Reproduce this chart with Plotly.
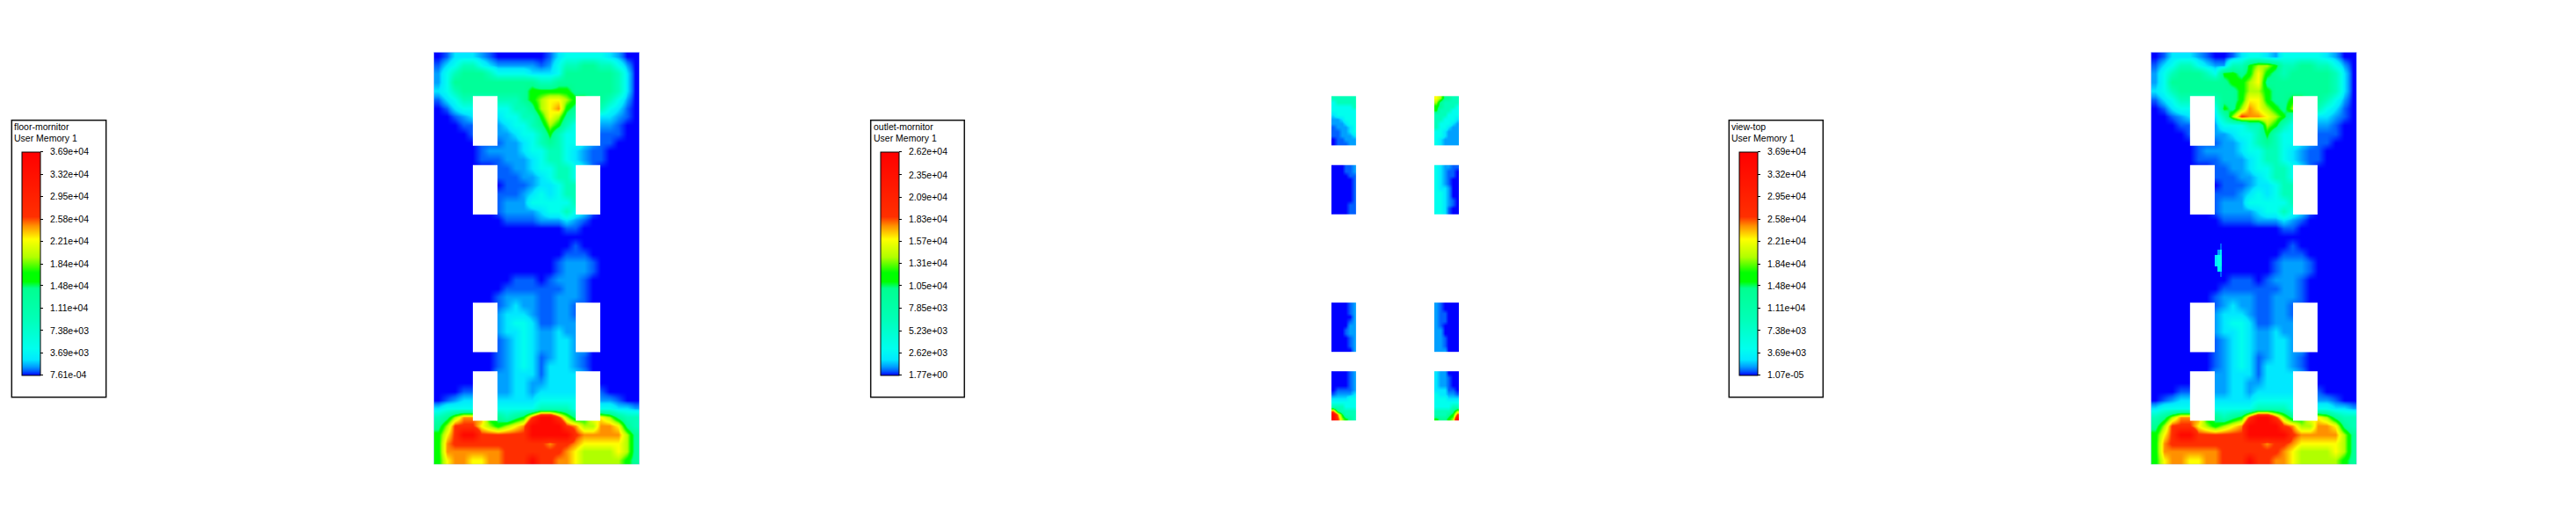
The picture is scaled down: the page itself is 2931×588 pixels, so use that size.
import numpy as np
import plotly.graph_objects as go

W, H = 2931, 588

# ---- data (field level per grid cell) ----
LEVEL_CHARS = "0123456789abc"
LEVEL_FRACTIONS = [0.0, 0.02, 0.04, 0.07, 0.12, 0.25, 0.36, 0.44, 0.53, 0.61, 0.67, 0.72, 0.95]

FLOOR_ROWS = [
    "013332 100000 013444 443200",
    "134554 322222 124556 655420",
    "245666 544443 334666 666530",
    "246666 666666 556666 666530",
    "345666 666667 777766 666530",
    "134555 555567 899877 665420",
    "013444 444556 89a766 554310",
    "001233 334455 798655 433210",
    "000112 223445 687544 322100",
    "000011 222344 575443 211100",
    "000001 112234 565443 211000",
    "000001 222234 455432 110000",
    "000001 112223 455432 110000",
    "000000 011223 445543 100000",
    "000000 011122 345543 100000",
    "000000 001112 334553 100000",
    "000000 011123 434553 100000",
    "000000 012224 444453 100000",
    "000000 012222 344543 100000",
    "000000 001111 222321 000000",
    "000000 000000 000110 000000",
    "000000 000000 000000 000000",
    "000000 000000 000010 000000",
    "000000 000000 000111 000000",
    "000000 000000 001222 100000",
    "000000 000000 001222 100000",
    "000000 000111 012221 000000",
    "000000 001111 111221 000000",
    "000000 012222 112221 000000",
    "000000 012322 112211 000000",
    "000000 023332 112211 000000",
    "000000 023443 112222 000000",
    "000000 023343 223222 000000",
    "000000 012343 223322 000000",
    "000000 012343 223322 000000",
    "000000 012343 123321 000000",
    "000000 012343 133321 000000",
    "000000 022333 133332 000000",
    "000000 022332 233332 000000",
    "000111 222332 333332 210000",
    "012333 333333 444443 322100",
    "344444 444444 555544 444332",
    "568aaa 76567b ccb867 998655",
    "68bbb9 8789ac cccba8 8aa965",
    "79bccb bbbbbc ccccba aaaa86",
    "7abbbb bbbbbb babba9 999986",
    "7aaaaa aabbbb bbba98 888986",
    "79aa99 aabbbc bbaa98 888876",
]

# view-top differs from floor-mornitor only near the top: row -> replacement from column 8
VIEW_TOP_PATCH = {
    0: "0134432",
    1: "25578875",
    2: "77679765",
    3: "67789666",
    4: "66788766",
    5: "667997667",
    6: "768a98768",
    7: "58baa987",
    8: "44455875",
}

# small sliver on view-top
SLIVER_X = [0.317, 0.331, 0.341]
SLIVER_Y = [0.942, 0.970, 0.999, 1.027, 1.055, 1.077]
SLIVER_ROWS = ["  1", " 23", "344", "344", " 43", "  1"]

# outlet-mornitor: one small field per window (left/right, four rows of windows)
OUTLET_ROWS = {
    (0, 0): ["555555", "455555", "444445", "444444", "344444", "223444",
             "222344", "122234", "112234", "112223", "011222", "011122"],
    (1, 0): ["986655", "865555", "765554", "755544", "555444", "554443",
             "544432", "544322", "443222", "443222", "432222", "432222"],
    (0, 1): ["000112", "000112", "000011", "000001", "000001", "000001",
             "000001", "000001", "000001", "000011", "000011", "000011"],
    (1, 1): ["432211", "432110", "432110", "432100", "432100", "433200",
             "443200", "443200", "443210", "443210", "443100", "443100"],
    (0, 2): ["000012", "000012", "000012", "000002", "000012", "000022",
             "000122", "000122", "000012", "000012", "000012", "000002"],
    (1, 2): ["210000", "210000", "211000", "211000", "211000", "210000",
             "220000", "220000", "221000", "221000", "221000", "222000"],
    (0, 3): ["000012", "000012", "000012", "000012", "011112", "122223",
             "333344", "444444", "555444", "a65555", "ca7555", "cb8765"],
    (1, 3): ["322000", "322100", "322100", "322100", "333110", "433221",
             "444333", "444444", "444455", "555568", "55567b", "76678c"],
}

# window openings, in panel units (panel is 1 wide, 2 tall, y downward)
WINDOW_X = [(0.190, 0.310), (0.690, 0.809)]
WINDOW_Y = [(0.2134, 0.4538), (0.5477, 0.788), (1.2148, 1.455), (1.5477, 1.788)]

TITLES = ["floor-mornitor", "outlet-mornitor", "view-top"]
SUBTITLE = "User Memory 1"
TICKS = [
    ["3.69e+04", "3.32e+04", "2.95e+04", "2.58e+04", "2.21e+04", "1.84e+04",
     "1.48e+04", "1.11e+04", "7.38e+03", "3.69e+03", "7.61e-04"],
    ["2.62e+04", "2.35e+04", "2.09e+04", "1.83e+04", "1.57e+04", "1.31e+04",
     "1.05e+04", "7.85e+03", "5.23e+03", "2.62e+03", "1.77e+00"],
    ["3.69e+04", "3.32e+04", "2.95e+04", "2.58e+04", "2.21e+04", "1.84e+04",
     "1.48e+04", "1.11e+04", "7.38e+03", "3.69e+03", "1.07e-05"],
]

COLORSCALE = [
    [0.00, "#0000ff"], [0.02, "#0060ff"], [0.04, "#00a0ff"], [0.07, "#00e8ff"],
    [0.12, "#00ffee"], [0.25, "#00ffb8"], [0.39, "#00ff90"], [0.42, "#00ff00"],
    [0.46, "#00ff00"], [0.53, "#b0ff00"], [0.61, "#ffff00"], [0.67, "#ff9000"],
    [0.71, "#ff3000"], [0.85, "#ff1800"], [1.00, "#ff0000"],
]

# ---- layout constants, pixels ----
PANEL_X = [(493.5, 727.7), (1470.4, 1704.5), (2447.3, 2681.7)]
PANEL_Y = (59.3, 528.3)
BOX_X = [(13.3, 120.7), (990.7, 1097.3), (1967.3, 2074.3)]
BOX_Y = (136.7, 451.7)
BAR_X = [24.7, 1001.7, 1978.7]
BAR_TOP, BAR_LEN, BAR_W = 172.7, 254, 21
FONT = "Liberation Sans, Arial, sans-serif"
TICK_PAD = "\u00a0\u00a0"


def decode(rows, zmax):
    out = []
    for r in rows:
        out.append([np.nan if c == " " else LEVEL_FRACTIONS[LEVEL_CHARS.index(c)] * zmax for c in r])
    return out


floor_rows = [r.replace(" ", "") for r in FLOOR_ROWS]
for r in floor_rows:
    assert len(r) == 24, r
view_rows = list(floor_rows)
for i, patch in VIEW_TOP_PATCH.items():
    view_rows[i] = view_rows[i][:8] + patch + view_rows[i][8 + len(patch):]

ncols, nrows = 24, len(floor_rows)
grid_x = [(i + 0.5) / ncols for i in range(ncols)]
grid_y = [(j + 0.5) * 2 / nrows for j in range(nrows)]

zmaxs = [float(t[0]) for t in TICKS]
zmins = [float(t[-1]) for t in TICKS]

fig = go.Figure()
for k, rows in [(0, floor_rows), (2, view_rows)]:
    fig.add_trace(go.Heatmap(x=grid_x, y=grid_y, z=decode(rows, zmaxs[k]), zsmooth="best",
                             coloraxis="coloraxis" if k == 0 else f"coloraxis{k+1}",
                             xaxis="x" if k == 0 else f"x{k+1}", yaxis="y" if k == 0 else f"y{k+1}",
                             hoverinfo="skip"))

fig.add_trace(go.Heatmap(x=SLIVER_X, y=SLIVER_Y, z=decode(SLIVER_ROWS, zmaxs[2]),
                         coloraxis="coloraxis3", xaxis="x3", yaxis="y3", hoverinfo="skip"))

for (ci, ri), rows in OUTLET_ROWS.items():
    xa, xb = WINDOW_X[ci]
    ya, yb = WINDOW_Y[ri]
    cx = [xa + (i + 0.5) * (xb - xa) / 6 for i in range(6)]
    cy = [ya + (j + 0.5) * (yb - ya) / 12 for j in range(12)]
    fig.add_trace(go.Heatmap(x=cx, y=cy, z=decode(rows, zmaxs[1]), zsmooth="best",
                             coloraxis="coloraxis2", xaxis="x2", yaxis="y2", hoverinfo="skip"))

layout = dict(width=W, height=H, autosize=False, margin=dict(l=0, r=0, t=0, b=0),
              paper_bgcolor="white", plot_bgcolor="white", showlegend=False,
              font=dict(family=FONT, size=10.5, color="black"))
shapes, annotations = [], []
for k in range(3):
    sfx = "" if k == 0 else str(k + 1)
    layout[f"xaxis{sfx}"] = dict(domain=[PANEL_X[k][0] / W, PANEL_X[k][1] / W], range=[0, 1],
                                 visible=False, anchor=f"y{sfx}", fixedrange=True)
    layout[f"yaxis{sfx}"] = dict(domain=[1 - PANEL_Y[1] / H, 1 - PANEL_Y[0] / H], range=[2, 0],
                                 visible=False, anchor=f"x{sfx}", fixedrange=True)
    layout[f"coloraxis{sfx}"] = dict(
        cmin=zmins[k], cmax=zmaxs[k], colorscale=COLORSCALE,
        colorbar=dict(
            x=BAR_X[k] / W, xanchor="left", xpad=0, y=1 - BAR_TOP / H, yanchor="top", ypad=0,
            thickness=BAR_W, thicknessmode="pixels", len=BAR_LEN, lenmode="pixels",
            outlinecolor="black", outlinewidth=1, borderwidth=0,
            tickmode="array", tickvals=[float(t) for t in TICKS[k]],
            ticktext=[TICK_PAD + t for t in TICKS[k]],
            ticks="outside", ticklen=3, tickwidth=1, tickcolor="black",
            tickfont=dict(family=FONT, size=10.5, color="black"),
        ),
    )
    # legend frame
    shapes.append(dict(type="rect", xref="paper", yref="paper",
                       x0=BOX_X[k][0] / W, x1=BOX_X[k][1] / W,
                       y0=1 - BOX_Y[1] / H, y1=1 - BOX_Y[0] / H,
                       line=dict(color="#111111", width=1.5), fillcolor="rgba(0,0,0,0)"))
    for text, py in ((TITLES[k], 144.5), (SUBTITLE, 157.5)):
        annotations.append(dict(text=text, xref="paper", yref="paper", x=(BOX_X[k][0] + 3) / W,
                                y=1 - py / H, xanchor="left", yanchor="middle", showarrow=False,
                                font=dict(family=FONT, size=10.5, color="black"),
                                borderpad=0, borderwidth=0))
    if k != 1:
        # window openings cut out of the field, plus the thin domain edge
        for xa, xb in WINDOW_X:
            for ya, yb in WINDOW_Y:
                shapes.append(dict(type="rect", xref=f"x{sfx}", yref=f"y{sfx}", x0=xa, x1=xb, y0=ya, y1=yb,
                                   fillcolor="white", line=dict(width=0), layer="above"))
        shapes.append(dict(type="rect", xref=f"x{sfx}", yref=f"y{sfx}", x0=0, x1=1, y0=0, y1=2,
                           line=dict(color="rgba(170,190,255,0.8)", width=1), fillcolor="rgba(0,0,0,0)"))

fig.update_layout(**layout, shapes=shapes, annotations=annotations)
fig.write_html("out.html", config={"displayModeBar": False},
               post_script="document.body.style.margin='0';")
